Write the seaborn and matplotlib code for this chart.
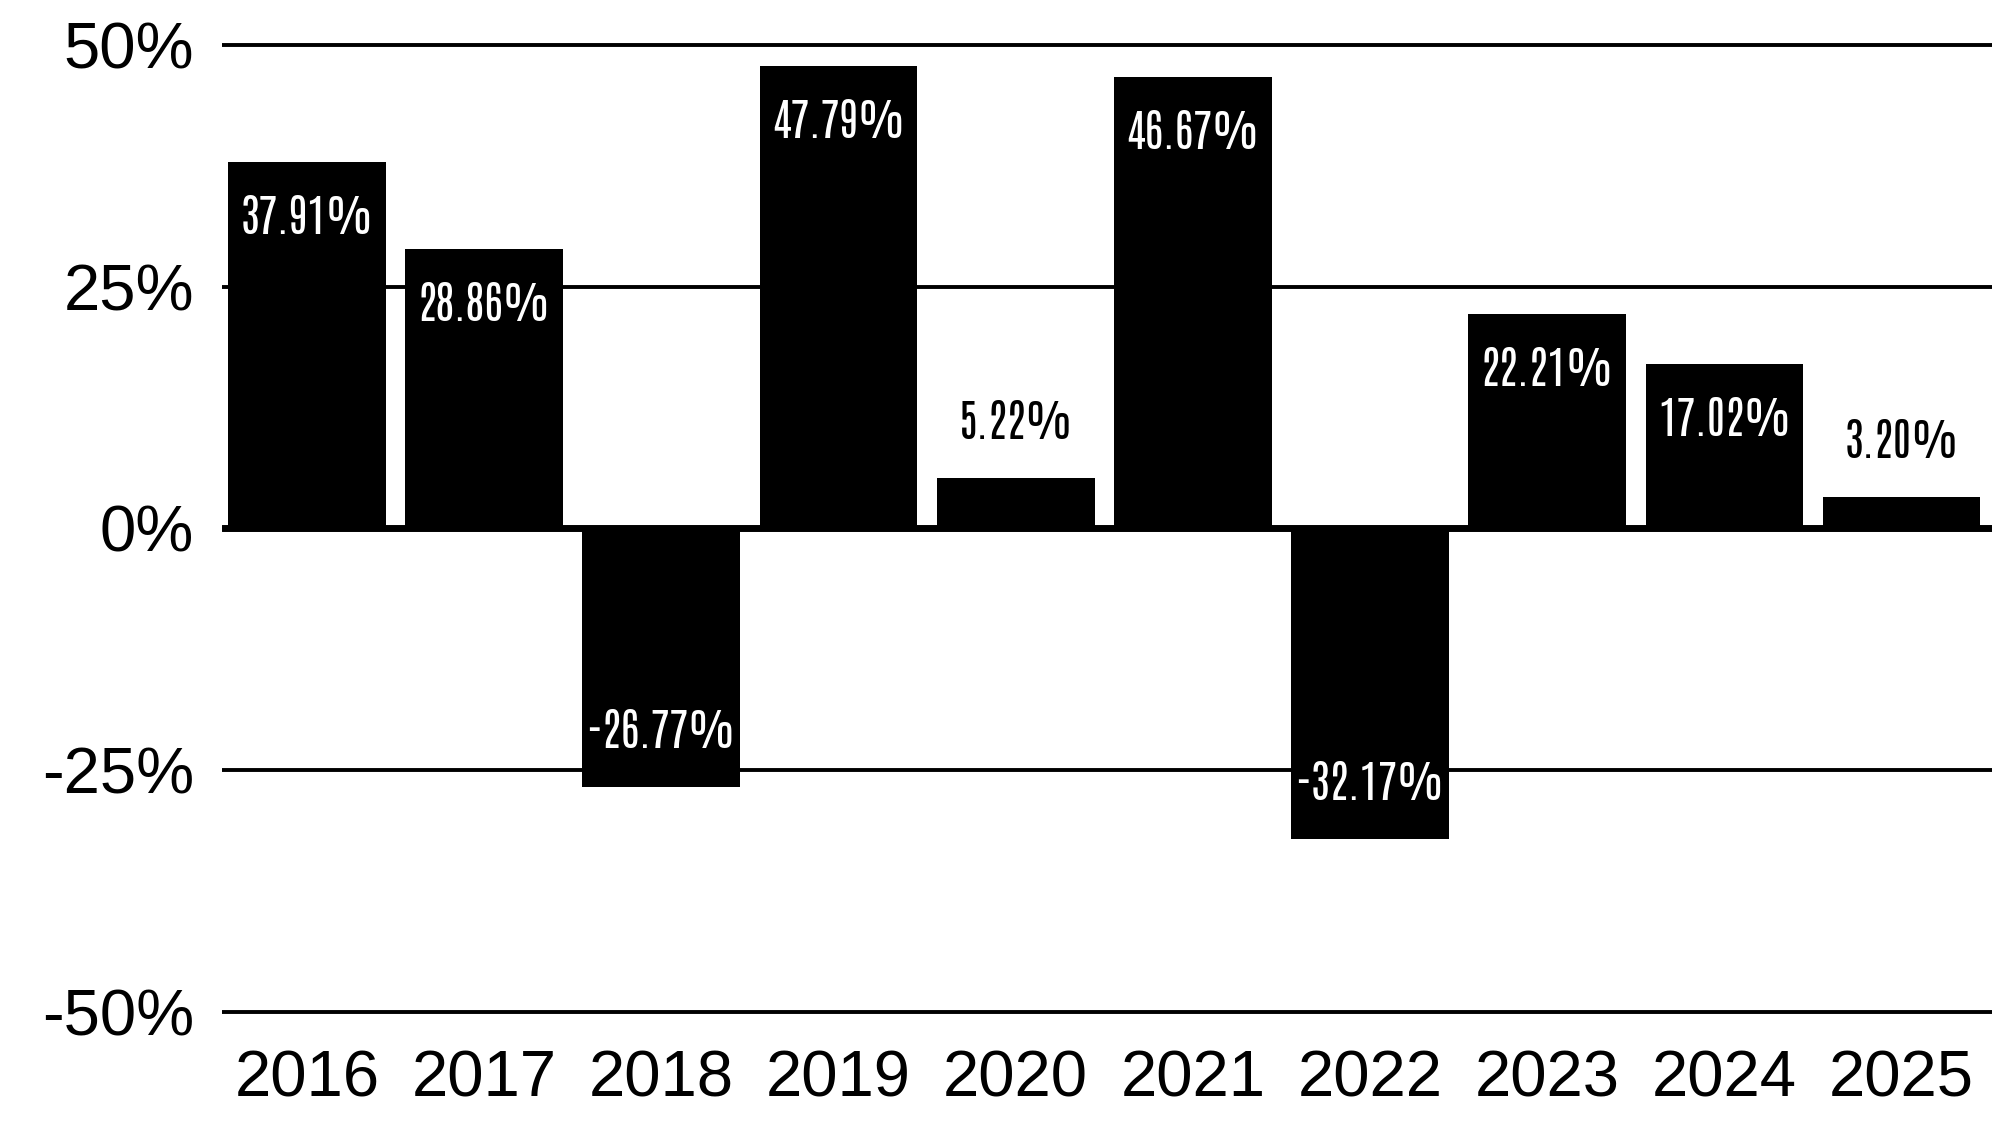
import matplotlib
matplotlib.use("Agg")
import matplotlib.pyplot as plt
import seaborn as sns
import pandas as pd

# data
years = ["2016", "2017", "2018", "2019", "2020", "2021", "2022", "2023", "2024", "2025"]
returns = [37.91, 28.86, -26.77, 47.79, 5.22, 46.67, -32.17, 22.21, 17.02, 3.20]
y_ticks = [-50, -25, 0, 25, 50]
y_tick_labels = ["-50%", "-25%", "0%", "25%", "50%"]

df = pd.DataFrame({"year": years, "ret": returns})

sns.set_theme(style="white")
plt.rcParams["font.family"] = ["Liberation Sans", "DejaVu Sans"]

fig = plt.figure(figsize=(19.92, 11.25), dpi=100)
ax = fig.add_axes([0.1114, 0.092, 0.8886, 0.8766])

sns.barplot(data=df, x="year", y="ret", color="black", width=0.89,
            saturation=1, linewidth=0, ax=ax, zorder=2)

ax.set_xlim(-0.48, 9.51)
ax.set_ylim(-51, 51)
ax.set_yticks(y_ticks)
ax.set_yticklabels(y_tick_labels)
ax.set_xlabel("")
ax.set_ylabel("")

# gridlines behind bars, heavier zero line
ax.yaxis.grid(True, color="black", linewidth=2.8, zorder=0)
ax.set_axisbelow(True)
ax.axhline(0, color="black", linewidth=5, zorder=3)

for s in ax.spines.values():
    s.set_visible(False)
ax.tick_params(axis="both", length=0, labelsize=47, colors="black")
ax.tick_params(axis="x", pad=20)
ax.tick_params(axis="y", pad=20)

# value labels: inside the bar end when tall, above it when short
label_font = ["Antonio", "Oswald", "Liberation Sans Narrow", "DejaVu Sans"]
for i, v in enumerate(returns):
    txt = f"{v:.2f}%"
    if abs(v) >= 10:
        off = -40 if v > 0 else 40
        col = "white"
    else:
        off = 40
        col = "black"
    ax.annotate(txt, xy=(i, v), xytext=(0, off), textcoords="offset points",
                ha="center", va="center", fontsize=32, color=col,
                family=label_font, zorder=4)

fig.savefig("out.png", dpi=100)
